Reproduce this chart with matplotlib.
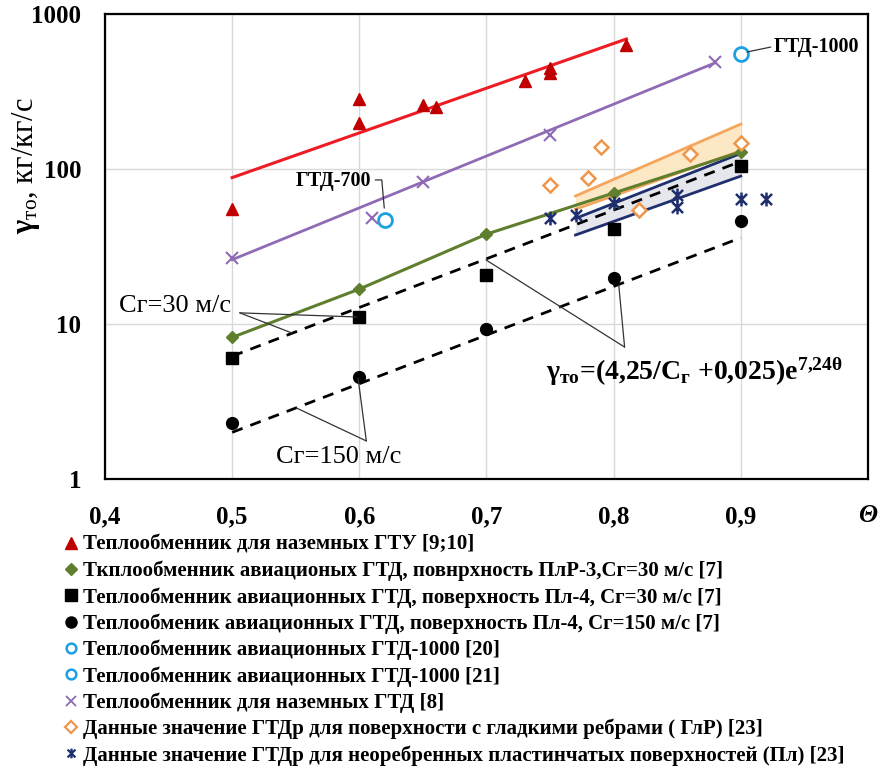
import matplotlib
matplotlib.use("Agg")
import matplotlib.pyplot as plt
from matplotlib.lines import Line2D
from matplotlib.path import Path

plt.rcParams['font.family'] = ['Liberation Serif', 'DejaVu Serif']
plt.rcParams['mathtext.fontset'] = 'custom'
plt.rcParams['mathtext.rm'] = 'Liberation Serif'
plt.rcParams['mathtext.it'] = 'Liberation Serif:italic'
plt.rcParams['mathtext.bf'] = 'Liberation Serif:bold'

# values
gtu_theta = [0.5, 0.6, 0.6, 0.65, 0.66, 0.73, 0.75, 0.75, 0.81]
gtu_gamma = [55, 198, 283, 259, 251, 370, 416, 450, 630]
gtu_fit_theta = [0.5, 0.81]
gtu_fit_gamma = [88, 690]

plr3_theta = [0.5, 0.6, 0.7, 0.8, 0.9]
plr3_gamma = [8.2, 16.8, 38, 70, 129]

pl4_theta = [0.5, 0.6, 0.7, 0.8, 0.9]
pl4_30_gamma = [6.0, 11.1, 20.7, 41, 104]
pl4_150_gamma = [2.3, 4.55, 9.3, 19.8, 46]

corr_theta = [0.5, 0.9]
corr_30_gamma = [6.2, 112]
corr_150_gamma = [2.0, 36]

gtd1000_20_theta = [0.62]
gtd1000_20_gamma = [47]
gtd1000_21_theta = [0.9]
gtd1000_21_gamma = [552]

gtd_theta = [0.5, 0.61, 0.65, 0.75, 0.88]
gtd_gamma = [26.7, 48, 82, 166, 490]
gtd_fit_theta = [0.5, 0.88]
gtd_fit_gamma = [26, 485]

glr_theta = [0.75, 0.78, 0.79, 0.82, 0.86, 0.9]
glr_gamma = [79, 87.5, 139, 54, 125, 147]
glr_band_theta = [0.77, 0.9]
glr_band_hi = [67, 195]
glr_band_lo = [55, 131]

pl_theta = [0.75, 0.77, 0.8, 0.85, 0.85, 0.9, 0.92]
pl_gamma = [48, 50.5, 60, 68, 57, 64, 64]
pl_band_theta = [0.77, 0.9]
pl_band_hi = [48, 126]
pl_band_lo = [37.5, 90]

legend_labels = [
    "Теплообменник для наземных ГТУ [9;10]",
    "Ткплообменник авиационых ГТД, повнрхность ПлР-3,Сг=30 м/с [7]",
    "Теплообменник авиационных ГТД, поверхность Пл-4, Сг=30 м/с [7]",
    "Теплообменик авиационных ГТД, поверхность Пл-4, Сг=150 м/с [7]",
    "Теплообменник авиационных ГТД-1000 [20]",
    "Теплообменник авиационных ГТД-1000 [21]",
    "Теплообменник для наземных ГТД [8]",
    "Данные значение ГТДр для поверхности с гладкими ребрами ( ГлР) [23]",
    "Данные значение ГТДр для неоребренных пластинчатых поверхностей (Пл) [23]",
]
xticks = [0.4, 0.5, 0.6, 0.7, 0.8, 0.9]
xtick_labels = ["0,4", "0,5", "0,6", "0,7", "0,8", "0,9"]
yticks = [1, 10, 100, 1000]
ytick_labels = ["1", "10", "100", "1000"]

red_line = '#ee1c25'
red = '#c00000'
purple = '#8f6bb5'
green = '#5f7f2e'
orange = '#f0964a'
navy = '#1f2f6e'
cyan = '#1ba1e2'

star = Path([(-1, -1), (1, 1), (-1, 1), (1, -1), (0, -1.25), (0, 1.25)],
            [Path.MOVETO, Path.LINETO, Path.MOVETO, Path.LINETO, Path.MOVETO, Path.LINETO])

fig = plt.figure(figsize=(8.81, 7.73), dpi=100)
ax = fig.add_axes([105 / 881, 1 - 479 / 773, 763 / 881, 465 / 773])
ax.set_yscale('log')
ax.set_xlim(0.4, 1.0)
ax.set_ylim(1, 1000)

# bands
ax.fill_between(glr_band_theta, glr_band_lo, glr_band_hi, color='#fde8c6', lw=0, zorder=1)
ax.plot(glr_band_theta, glr_band_hi, color='#f5a65c', lw=2, zorder=2)
ax.plot(glr_band_theta, glr_band_lo, color='#f5a65c', lw=2, zorder=2)
ax.fill_between(pl_band_theta, pl_band_lo, pl_band_hi, color='#e6e7ec', lw=0, zorder=1)
ax.plot(pl_band_theta, pl_band_hi, color=navy, lw=2, zorder=2)
ax.plot(pl_band_theta, pl_band_lo, color=navy, lw=2, zorder=2)

# fit lines
ax.plot(gtu_fit_theta, gtu_fit_gamma, color=red_line, lw=2.2, zorder=2)
ax.plot(gtd_fit_theta, gtd_fit_gamma, color=purple, lw=2, zorder=2)
ax.plot(plr3_theta, plr3_gamma, color=green, lw=2.2, zorder=2)
ax.plot(corr_theta, corr_30_gamma, color='black', lw=2, ls=(0, (4, 3)), zorder=2)
ax.plot(corr_theta, corr_150_gamma, color='black', lw=2, ls=(0, (4, 3)), zorder=2)

# markers
ax.plot(gtu_theta, gtu_gamma, '^', color=red, ms=9, ls='none', zorder=3)
ax.plot(plr3_theta, plr3_gamma, 'D', color=green, ms=6.5, ls='none', zorder=3)
ax.plot(pl4_theta, pl4_30_gamma, 's', color='black', ms=8.5, ls='none', zorder=3)
ax.plot(pl4_theta, pl4_150_gamma, 'o', color='black', ms=8.5, ls='none', zorder=3)
ax.plot(gtd1000_20_theta, gtd1000_20_gamma, 'o', mfc='white', mec=cyan, mew=2, ms=10, ls='none', zorder=3)
ax.plot(gtd1000_21_theta, gtd1000_21_gamma, 'o', mfc='white', mec=cyan, mew=2, ms=10, ls='none', zorder=3)
ax.plot(gtd_theta, gtd_gamma, 'x', color=purple, mew=1.5, ms=8, ls='none', zorder=3)
ax.plot(glr_theta, glr_gamma, 'D', mfc='white', mec=orange, mew=1.8, ms=7.5, ls='none', zorder=3)
ax.plot(pl_theta, pl_gamma, marker=star, color=navy, mew=1.8, ms=10, ls='none', zorder=3)

# axes styling
ax.grid(True, which='major', color='#d9d9d9', lw=1)
ax.minorticks_off()
ax.set_xticks(xticks)
ax.set_xticklabels(xtick_labels, fontsize=18, fontweight='bold')
ax.set_yticks(yticks)
ax.set_yticklabels(ytick_labels, fontsize=18, fontweight='bold')
ax.tick_params(axis='both', length=0)
ax.tick_params(axis='x', pad=19)
ax.tick_params(axis='y', pad=17)
for s in ax.spines.values():
    s.set_linewidth(1.6)
ax.set_axisbelow(True)

ax.text(1.0, -0.078, "Θ", transform=ax.transAxes, ha='center', va='center',
        fontsize=18, fontweight='bold', fontstyle='italic')

ax.set_ylabel(r'$\mathbf{γ}_{\mathrm{то}}$, кг/кг/с', fontsize=22)
ax.yaxis.set_label_coords(-0.083, 0.675)

# annotations
line_kw = dict(arrowstyle='-', color='#333333', lw=0.9, shrinkA=0, shrinkB=0)
ax.text(0.455, 13.1, "Cг=30 м/с", fontsize=19, ha='center', va='center')
ax.annotate("", xy=(0.598, 11.1), xytext=(0.506, 11.8), arrowprops=line_kw)
ax.annotate("", xy=(0.547, 8.75), xytext=(0.506, 11.8), arrowprops=line_kw)

ax.text(0.5835, 1.39, "Cг=150 м/с", fontsize=19, ha='center', va='center')
ax.annotate("", xy=(0.5506, 2.87), xytext=(0.6055, 1.76), arrowprops=line_kw)
ax.annotate("", xy=(0.599, 4.48), xytext=(0.6055, 1.76), arrowprops=line_kw)

ax.text(0.8635, 4.9, r'$\mathbf{γ}_{\mathbf{то}}$=(4,25/C$_{\mathbf{г}}$ +0,025)e$^{\mathbf{7{,}24θ}}$',
        fontsize=20, fontweight='bold', ha='center', va='center')
ax.annotate("", xy=(0.6996, 25.9), xytext=(0.8086, 7.1), arrowprops=line_kw)
ax.annotate("", xy=(0.804, 17.9), xytext=(0.8086, 7.1), arrowprops=line_kw)

ax.text(0.6094, 84, "ГТД-700", fontsize=14.5, fontweight='bold', ha='right', va='center')
ax.annotate("", xy=(0.6196, 56), xytext=(0.6125, 85),
            arrowprops=dict(arrowstyle='-', color='#333333', lw=0.9, shrinkA=0, shrinkB=0,
                            connectionstyle='angle,angleA=0,angleB=95,rad=0'))
ax.text(0.9255, 612, "ГТД-1000", fontsize=14.5, fontweight='bold', ha='left', va='center')
ax.annotate("", xy=(0.9235, 612), xytext=(0.905, 569), arrowprops=line_kw)

# legend below the plot
handles = [
    Line2D([], [], marker='^', color=red, ls='none', ms=8),
    Line2D([], [], marker='D', color=green, ls='none', ms=6),
    Line2D([], [], marker='s', color='black', ls='none', ms=8),
    Line2D([], [], marker='o', color='black', ls='none', ms=8),
    Line2D([], [], marker='o', mfc='white', mec=cyan, mew=1.8, ls='none', ms=7),
    Line2D([], [], marker='o', mfc='white', mec=cyan, mew=1.8, ls='none', ms=7),
    Line2D([], [], marker='x', color=purple, mew=1.3, ls='none', ms=7),
    Line2D([], [], marker='D', mfc='white', mec=orange, mew=1.6, ls='none', ms=6),
    Line2D([], [], marker=star, color=navy, mew=1.6, ls='none', ms=7),
]
fig.legend(handles, legend_labels, loc='upper left', bbox_to_anchor=(0.071, 0.308),
           frameon=False, borderpad=0, borderaxespad=0, handlelength=0.8,
           handletextpad=0.2, labelspacing=0.28,
           prop={'family': 'Liberation Serif', 'weight': 'bold', 'size': 15})

fig.savefig("out.png", dpi=100)
